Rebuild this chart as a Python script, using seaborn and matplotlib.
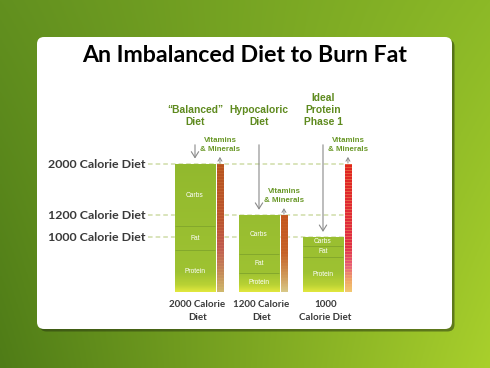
import numpy as np
import pandas as pd
import matplotlib.pyplot as plt
import seaborn as sns
from matplotlib.colors import to_rgb
from matplotlib.patches import FancyBboxPatch
from matplotlib.transforms import blended_transform_factory

# Data
diets = ["2000 Calorie Diet", "1200 Calorie Diet", "1000 Calorie Diet"]
headers = ["“Balanced”\nDiet", "Hypocaloric\nDiet", "Ideal\nProtein\nPhase 1"]
bottom_labels = ["2000 Calorie\nDiet", "1200 Calorie\nDiet", "1000\nCalorie Diet"]
segments = ["Protein", "Fat", "Carbs"]
protein = [656, 302, 542]
fat = [375, 288, 177]
carbs = [969, 610, 135]
vitamins = [2000, 1200, 2000]

df = pd.DataFrame({"diet": diets, "Protein": protein, "Fat": fat, "Carbs": carbs})
df["total"] = df[segments].sum(axis=1)

sns.set_theme(style="white")
plt.rcParams["font.family"] = ["Lato", "DejaVu Sans"]

fig = plt.figure(figsize=(4.9, 3.68), dpi=100)

# slide background (green gradient) + white panel
bg = fig.add_axes([0, 0, 1, 1])
gx, gy = np.meshgrid(np.linspace(0, 1, 245), np.linspace(0, 1, 184))
tl, tr, bl, br = [np.array(to_rgb(c)) for c in ("#62901f", "#8cb927", "#4f7c17", "#a9d02c")]
top = (1 - gx)[..., None] * tl + gx[..., None] * tr
bot = (1 - gx)[..., None] * bl + gx[..., None] * br
bg.imshow((1 - gy)[..., None] * top + gy[..., None] * bot,
          extent=[0, 490, 0, 368], aspect="auto", origin="upper")
bg.add_patch(FancyBboxPatch((39.5, 36.5), 415, 292, boxstyle="round,pad=0,rounding_size=7",
                            fc="#2a3a10", ec="none", alpha=0.55))
bg.add_patch(FancyBboxPatch((37, 39), 415, 292, boxstyle="round,pad=0,rounding_size=7",
                            fc="white", ec="none"))
bg.text(245, 312, "An Imbalanced Diet to Burn Fat", ha="center", va="center",
        fontsize=16.7, fontweight="bold", color="black")
bg.set_xlim(0, 490)
bg.set_ylim(0, 368)
bg.axis("off")

# chart area
ax = fig.add_axes([150 / 490, 76 / 368, 240 / 490, 128 / 368])
ax.patch.set_alpha(0)
ax.hlines(df["total"], -0.734, 2.34, colors="#cfdca8", linestyles=(0, (3, 2)),
          lw=1.1, zorder=1, clip_on=False)

sns.barplot(data=df, x="diet", y="total", color="#96bc2e", saturation=1,
            width=0.64, ax=ax, zorder=2)
bars = list(ax.patches)


def vgrad(stops, h, n=200):
    ys = np.linspace(h, 0, n)
    pos = [s[0] for s in stops]
    cols = np.array([to_rgb(s[1]) for s in stops])
    return np.stack([np.interp(ys, pos, cols[:, k]) for k in range(3)], axis=-1)


bar_stops = [(0, "#e2e83e"), (110, "#b9d234"), (300, "#9ec232"), (2000, "#92b92e")]
for p in bars:
    h = p.get_height()
    im = ax.imshow(vgrad(bar_stops, h)[:, None, :], extent=(p.get_x(), p.get_x() + p.get_width(), 0, h),
                   aspect="auto", origin="upper", zorder=2.1, interpolation="bilinear")
    im.set_clip_path(p)

# vitamins & minerals strips
strip_stops = [
    [(0, "#cdb86c"), (0.15, "#c48a5a"), (0.35, "#c05a50"), (0.55, "#bb5530"), (1, "#b8541e")],
    [(0, "#d8c888"), (0.2, "#cf9a5a"), (0.5, "#c6622a"), (1, "#c4561e")],
    [(0, "#f2c870"), (0.08, "#f0a868"), (0.2, "#e8607a"), (0.35, "#e03048"), (1, "#e0261e")],
]
stripe_mix = [0.12, 0.05, 0.35]
xs = np.arange(len(diets))
strips = ax.bar(xs + 0.39, vitamins, width=0.105, color="#c4561e", zorder=2)
for p, st, mix in zip(strips, strip_stops, stripe_mix):
    h = p.get_height()
    n = int(round(h / 15.625))
    arr = vgrad([(f * h, c) for f, c in st], h, n)
    arr[::3] = arr[::3] * (1 - mix) + np.array(to_rgb("#f3c070")) * mix
    im = ax.imshow(arr[:, None, :], extent=(p.get_x(), p.get_x() + p.get_width(), 0, h),
                   aspect="auto", origin="upper", zorder=2.1, interpolation="nearest")
    im.set_clip_path(p)

# segment separators and labels
for i, row in df.iterrows():
    base = 0
    for seg in segments:
        val = row[seg]
        ax.text(i, base + val / 2, seg, ha="center", va="center", fontsize=4.8,
                color="white", family=["Liberation Sans", "DejaVu Sans"], zorder=4)
        base += val
        if seg != "Carbs":
            ax.hlines(base, i - 0.32, i + 0.32, colors="#84a82c", lw=0.7, zorder=3)

# arrows
arrow_grey = "#8a8a8a"
for i, tot in enumerate(df["total"]):
    ax.annotate("", xy=(i, tot + 85), xytext=(i, 2300),
                arrowprops=dict(arrowstyle="->,head_length=0.35,head_width=0.22",
                                color=arrow_grey, lw=0.8, shrinkA=0, shrinkB=0),
                annotation_clip=False)
for x, v in zip(xs + 0.39, vitamins):
    ax.annotate("", xy=(x, v + 110), xytext=(x, v + 15),
                arrowprops=dict(arrowstyle="->,head_length=0.2,head_width=0.12",
                                color=arrow_grey, lw=0.7, shrinkA=0, shrinkB=0),
                annotation_clip=False)
    ax.text(x, v + 175, "Vitamins\n& Minerals", ha="center", va="bottom", fontsize=5.7,
            fontweight="bold", color="#6a9828", linespacing=1.35,
            family=["Liberation Sans", "DejaVu Sans"])

# column headers
for i, h in enumerate(headers):
    ax.text(i, 2580, h, ha="center", va="bottom", fontsize=7.4, fontweight="bold",
            color="#5e8a1e", linespacing=1.25, family=["Liberation Sans", "DejaVu Sans"])

# left level labels
trans = blended_transform_factory(fig.transFigure, ax.transData)
for lab, tot in zip(diets, df["total"]):
    ax.text(48 / 490, tot, lab, transform=trans, ha="left", va="center",
            fontsize=8.9, fontweight="bold", color="#3a3a3a")

# bottom labels
for i, lab in enumerate(bottom_labels):
    ax.text(i + 0.04, -130, lab, ha="center", va="top", fontsize=7.0,
            fontweight="bold", color="#3a3a3a", linespacing=1.5)

ax.set_xlim(-0.703, 3.047)
ax.set_ylim(0, 2000)
ax.axis("off")

fig.savefig("out.png", dpi=100)
